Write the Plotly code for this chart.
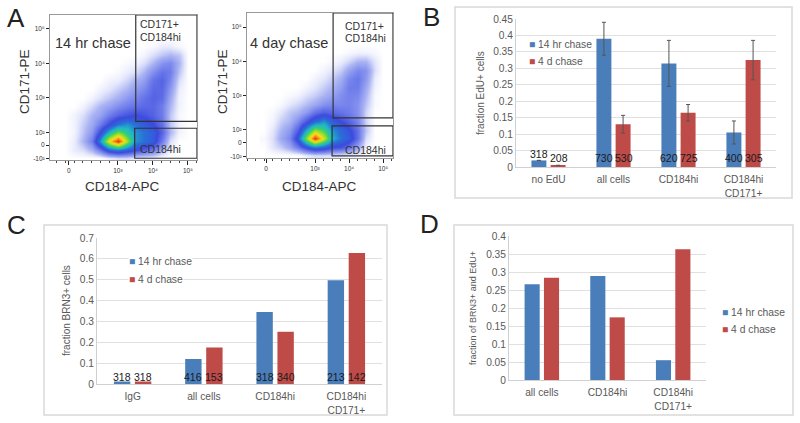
import plotly.graph_objects as go

W, H = 800, 423

BLUE = "#4a7ebb"
RED = "#be4b48"
GREY = "#595959"

# flow plots: density, on a biexponential axis in "decades"
flow_x = [1.5, 1.75, 2.0, 2.25, 2.5, 2.75, 3.0, 3.25, 3.5, 3.75, 4.0, 4.25, 4.5, 4.75, 5.0]
flow_y = [1.25, 1.5, 1.75, 2.0, 2.25, 2.5, 2.75, 3.0, 3.25, 3.5, 3.75, 4.0, 4.25, 4.5, 4.75]

density_14hr = [
    [0, 0, 0, 0, 0, .3, .5, .5, .3, .3, .2, 0, 0, 0, 0],
    [0, .3, .5, 1, 2, 3.5, 4, 3.5, 3, 2.5, 2, 1, .2, 0, 0],
    [0, .3, 1, 2, 4.5, 8, 10, 7, 4.5, 4, 3.5, 2, .5, 0, 0],
    [0, .2, .8, 1.5, 3, 5, 6.5, 5.5, 4.5, 4, 3.5, 2.5, 1, .2, 0],
    [0, .2, .7, 1.2, 2, 3, 4, 4.5, 4, 3.5, 3, 2.2, .8, .2, 0],
    [0, .2, .5, 1, 1.3, 2, 2.5, 2.8, 3, 2.8, 2.5, 2, .8, .1, 0],
    [0, 0, .2, .6, 1, 1.3, 1.7, 2, 2.2, 2.4, 2.4, 2, 1, .2, 0],
    [0, 0, 0, .2, .5, .8, 1.1, 1.5, 1.8, 2.2, 2.5, 2.3, 1.2, .2, 0],
    [0, 0, 0, 0, .2, .4, .7, 1, 1.4, 1.8, 2.4, 2.4, 1.5, .3, 0],
    [0, 0, 0, 0, 0, .2, .3, .6, 1, 1.4, 2.2, 2.5, 1.8, .5, 0],
    [0, 0, 0, 0, 0, 0, .1, .3, .5, 1, 1.7, 2.2, 2, .8, 0],
    [0, 0, 0, 0, 0, 0, 0, .1, .2, .5, 1, 1.6, 1.8, 1, 0],
    [0, 0, 0, 0, 0, 0, 0, 0, 0, .2, .5, .8, 1, .8, 0],
    [0, 0, 0, 0, 0, 0, 0, 0, 0, 0, .1, .3, .3, .1, 0],
    [0, 0, 0, 0, 0, 0, 0, 0, 0, 0, 0, 0, 0, 0, 0],
]
density_4d = [
    [0, 0, 0, 0, 0, .3, .5, .5, .4, .3, .2, .1, 0, 0, 0],
    [0, .4, .7, 1.2, 2, 3.2, 4, 3.6, 3, 2.8, 2.2, 1.2, .2, 0, 0],
    [.1, .5, 1.2, 1.8, 3.5, 7, 10, 7.5, 5, 4, 3.5, 2.2, .5, 0, 0],
    [0, .4, 1, 1.5, 2.6, 5, 7, 6, 4.5, 3.8, 3.2, 2.2, .8, 0, 0],
    [0, .2, .7, 1, 1.7, 2.8, 3.8, 4.5, 3.6, 3, 2.5, 1.8, .6, 0, 0],
    [0, .1, .4, .8, 1, 1.5, 2.2, 2.6, 2.4, 2.2, 2, 1.6, .6, 0, 0],
    [0, 0, .1, .4, .6, .9, 1.2, 1.6, 1.8, 1.8, 1.9, 1.6, .8, .1, 0],
    [0, 0, 0, .1, .2, .5, .7, 1, 1.3, 1.7, 1.9, 1.8, 1, .1, 0],
    [0, 0, 0, 0, 0, .2, .4, .7, 1, 1.4, 2, 2, 1.2, .2, 0],
    [0, 0, 0, 0, 0, 0, .2, .4, .7, 1.1, 1.8, 2.1, 1.5, .3, 0],
    [0, 0, 0, 0, 0, 0, 0, .2, .4, .7, 1.3, 1.8, 1.6, .5, 0],
    [0, 0, 0, 0, 0, 0, 0, 0, .1, .3, .6, 1, 1, .4, 0],
    [0, 0, 0, 0, 0, 0, 0, 0, 0, 0, .1, .2, .2, .1, 0],
    [0, 0, 0, 0, 0, 0, 0, 0, 0, 0, 0, 0, 0, 0, 0],
    [0, 0, 0, 0, 0, 0, 0, 0, 0, 0, 0, 0, 0, 0, 0],
]
flow_scale = [
    [0, "#ffffff"], [.04, "#e4e7fb"], [.1, "#aab4f3"], [.2, "#6f7deb"], [.3, "#3c4ade"],
    [.4, "#2a6fd8"], [.5, "#20b8c8"], [.6, "#38d070"], [.7, "#a8e020"], [.8, "#f6e020"],
    [.9, "#f58a10"], [1, "#e82a10"],
]
flow_x_ticks = ["0", "10³", "10⁴", "10⁵"]
flow_y_ticks = ["-10²", "0", "10²", "10³", "10⁴", "10⁵"]

# panel B
cats_b = ["no EdU", "all cells", "CD184hi", "CD184hi<br>CD171+"]
b_14hr = [0.02, 0.39, 0.315, 0.105]
b_4d = [0.005, 0.13, 0.165, 0.325]
b_14hr_err = [0, 0.05, 0.07, 0.035]
b_4d_err = [0, 0.027, 0.025, 0.06]
b_14hr_n = ["318", "730", "620", "400"]
b_4d_n = ["208", "530", "725", "305"]
b_14hr_n_y = [0.04, 0.027, 0.027, 0.027]
b_4d_n_y = [0.027, 0.027, 0.027, 0.027]
b_ticks = [0, 0.05, 0.1, 0.15, 0.2, 0.25, 0.3, 0.35, 0.4, 0.45]
b_labels = ["0", "0.05", "0.1", "0.15", "0.2", "0.25", "0.3", "0.35", "0.4", "0.45"]

# panel C
cats_c = ["IgG", "all cells", "CD184hi", "CD184hi<br>CD171+"]
c_14hr = [0.012, 0.12, 0.345, 0.497]
c_4d = [0.012, 0.175, 0.25, 0.628]
c_14hr_n = ["318", "416", "318", "213"]
c_4d_n = ["318", "153", "340", "142"]
c_ticks = [0, 0.1, 0.2, 0.3, 0.4, 0.5, 0.6, 0.7]
c_labels = ["0", "0.1", "0.2", "0.3", "0.4", "0.5", "0.6", "0.7"]

# panel D
cats_d = ["all cells", "CD184hi", "CD184hi<br>CD171+"]
d_14hr = [0.266, 0.289, 0.055]
d_4d = [0.284, 0.174, 0.363]
d_ticks = [0, 0.05, 0.1, 0.15, 0.2, 0.25, 0.3, 0.35, 0.4]
d_labels = ["0", "0.05", "0.1", "0.15", "0.2", "0.25", "0.3", "0.35", "0.4"]


def px(x):
    return x / W


def py(y):
    return 1 - y / H


fig = go.Figure()
annots = []
shapes = []


def add_text(x, y, text, size, color=GREY, angle=0, anchor="center", bg=None):
    annots.append(dict(
        x=px(x), y=py(y), xref="paper", yref="paper", text=text, showarrow=False,
        font=dict(size=size, color=color, family="Liberation Sans"), textangle=angle,
        xanchor=anchor, yanchor="middle", bgcolor=bg, borderpad=0,
    ))


def add_frame(x0, y0, x1, y1):
    shapes.append(dict(type="rect", xref="paper", yref="paper", x0=px(x0), x1=px(x1),
                       y0=py(y0), y1=py(y1), line=dict(color="#d9d9d9", width=1.5),
                       layer="below"))


def add_legend(x, y1, y2):
    # small squares like the spreadsheet legend, plotly's own swatch is too wide here
    add_text(x, y1, "<span style='color:%s'>■</span> 14 hr chase" % BLUE, 10.3, anchor="left", bg="white")
    add_text(x, y2, "<span style='color:%s'>■</span> 4 d chase" % RED, 10.3, anchor="left", bg="white")


def flow_panel(n, z, dom, xr, yr, xpos, ypos, upper, lower):
    xa, ya = ("xaxis%d" % n), ("yaxis%d" % n)
    fig.add_trace(go.Heatmap(
        x=flow_x, y=flow_y, z=z, zmin=0, zmax=10, zsmooth="best", colorscale=flow_scale,
        showscale=False, xaxis="x%d" % n, yaxis="y%d" % n,
    ))
    tick_font = dict(size=6.5, color="#333333", family="Liberation Sans")
    fig.update_layout({
        xa: dict(domain=[px(dom[0]), px(dom[2])], range=xr, anchor="y%d" % n, showgrid=False,
                 zeroline=False, tickmode="array", tickvals=xpos, ticktext=flow_x_ticks,
                 ticks="outside", ticklen=4, tickcolor="#222222", tickfont=tick_font,
                 showline=True, linecolor="#999999", mirror=True,
                 minor=dict(ticks="outside", ticklen=2, dtick=0.25, tickcolor="#444444")),
        ya: dict(domain=[py(dom[3]), py(dom[1])], range=yr, anchor="x%d" % n, showgrid=False,
                 zeroline=False, tickmode="array", tickvals=ypos, ticktext=flow_y_ticks,
                 ticks="outside", ticklen=3, tickcolor="#222222", tickfont=tick_font,
                 showline=True, linecolor="#999999", mirror=True),
    })
    for g in (upper, lower):
        shapes.append(dict(type="rect", xref="x%d" % n, yref="y%d" % n,
                           x0=g[0], x1=g[1], y0=g[2], y1=g[3],
                           line=dict(color="#333333", width=1.2)))


def bar_panel(n, dom, cats, s1, s2, top, ticks, labels, err1=None, err2=None):
    xname, yname = "x%d" % n, "y%d" % n
    fig.add_trace(go.Bar(
        x=cats, y=s1, name="14 hr chase", marker=dict(color=BLUE, line=dict(width=0)),
        xaxis=xname, yaxis=yname,
        error_y=dict(type="data", array=err1, color="#555555", thickness=1, width=2) if err1 else None,
    ))
    fig.add_trace(go.Bar(
        x=cats, y=s2, name="4 d chase", marker=dict(color=RED, line=dict(width=0)),
        xaxis=xname, yaxis=yname,
        error_y=dict(type="data", array=err2, color="#555555", thickness=1, width=2) if err2 else None,
    ))
    fig.update_layout({
        "xaxis%d" % n: dict(domain=[px(dom[0]), px(dom[2])], anchor=yname, ticklabelstandoff=3,
                            tickfont=dict(size=10.2, color=GREY, family="Liberation Sans"),
                            showline=True, linecolor="#d0d0d0", ticks="", showgrid=False),
        "yaxis%d" % n: dict(domain=[py(dom[3]), py(dom[1])], anchor=xname, range=[0, top],
                            tickmode="array", tickvals=ticks, ticktext=labels,
                            tickfont=dict(size=10.2, color=GREY, family="Liberation Sans"),
                            showline=True, linecolor="#d0d0d0", gridcolor="#e0e0e0", gridwidth=1,
                            zeroline=False, ticks=""),
    })


def n_labels(n, labels1, labels2, ys1, ys2, shift):
    for i, (a, b, y1, y2) in enumerate(zip(labels1, labels2, ys1, ys2)):
        for txt, y, s in ((a, y1, -shift), (b, y2, shift)):
            annots.append(dict(x=i, y=y, xref="x%d" % n, yref="y%d" % n, text=txt, showarrow=False,
                               xshift=s, font=dict(size=10.5, color="#1a1a1a", family="Liberation Sans")))


# A
flow_panel(1, density_14hr, (50, 15, 197, 160), [1.06, 5.26], [1.2, 5.4],
           [1.6, 3, 4, 5], [1.23, 1.63, 2, 3, 4, 5],
           (3.51, 5.26, 2.32, 5.4), (3.48, 5.26, 1.25, 2.12))
flow_panel(2, density_4d, (247, 13, 393, 158), [1.0, 5.29], [1.18, 5.41],
           [1.56, 3, 4, 5], [1.21, 1.62, 2, 3, 4, 5],
           (3.53, 5.29, 2.35, 5.41), (3.5, 5.29, 1.24, 2.12))

add_text(93, 43, "14 hr chase", 14.5, "#333333")
add_text(289, 43, "4 day chase", 14.5, "#333333")
add_text(139, 24, "CD171+", 10.5, "#333333", anchor="left")
add_text(139, 37, "CD184hi", 10.5, "#333333", anchor="left")
add_text(139, 149, "CD184hi", 10.5, "#333333", anchor="left")
add_text(344, 26, "CD171+", 10.5, "#333333", anchor="left")
add_text(344, 38, "CD184hi", 10.5, "#333333", anchor="left")
add_text(344, 150, "CD184hi", 10.5, "#333333", anchor="left")
add_text(24, 82, "CD171-PE", 13.5, "#333333", angle=-90)
add_text(222, 82, "CD171-PE", 13.5, "#333333", angle=-90)
add_text(122, 186, "CD184-APC", 13.5, "#333333")
add_text(319, 186, "CD184-APC", 13.5, "#333333")

# B
add_frame(455, 7, 792, 198)
bar_panel(3, (516, 19, 776, 167), cats_b, b_14hr, b_4d, 0.45, b_ticks, b_labels, b_14hr_err, b_4d_err)
n_labels(3, b_14hr_n, b_4d_n, b_14hr_n_y, b_4d_n_y, 10)
add_text(480, 93, "fraction EdU+ cells", 10, angle=-90)
add_legend(528, 44, 62)

# C
add_frame(44, 225, 387, 415)
bar_panel(4, (97, 238, 382, 384), cats_c, c_14hr, c_4d, 0.7, c_ticks, c_labels)
n_labels(4, c_14hr_n, c_4d_n, [0.034] * 4, [0.034] * 4, 10.5)
add_text(66, 311, "fraction BRN3+ cells", 10, angle=-90)
add_legend(128, 261, 279)

# D
add_frame(454, 225, 793, 415)
bar_panel(5, (509, 236, 706, 380), cats_d, d_14hr, d_4d, 0.4, d_ticks, d_labels)
add_text(473, 308, "fraction of BRN3+ and EdU+", 9, angle=-90)
add_legend(721, 312, 329)

# panel letters
add_text(6, 18, "A", 26, "#222222", anchor="left")
add_text(422, 17, "B", 26, "#222222", anchor="left")
add_text(6, 225, "C", 26, "#222222", anchor="left")
add_text(419, 224, "D", 26, "#222222", anchor="left")

fig.update_layout(
    width=W, height=H, margin=dict(l=0, r=0, t=0, b=0, autoexpand=False),
    paper_bgcolor="white", plot_bgcolor="white",
    barmode="group", annotations=annots, shapes=shapes, showlegend=False,
    bargap=0.41, bargroupgap=0.22,
)

fig.write_html("out.html", config=dict(displayModeBar=False),
               post_script="document.body.style.margin='0';")
